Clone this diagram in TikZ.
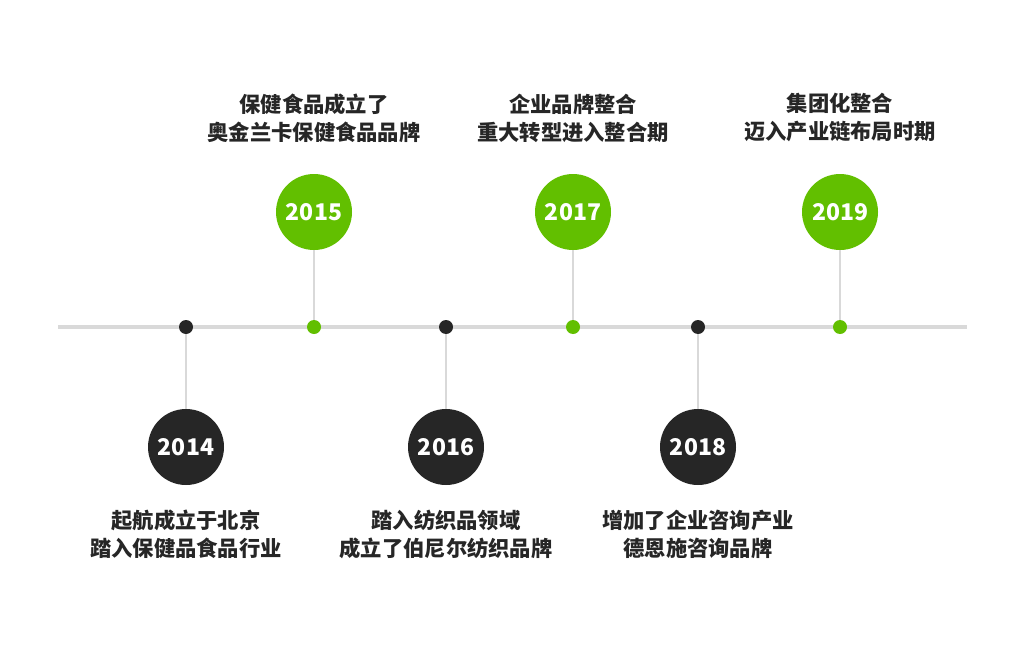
\documentclass[tikz,border=0pt]{standalone}
\usepackage{fontspec}
\newfontfamily\cjk{Noto Sans CJK SC}
\usepackage{xcolor}
\usepackage{tikz}
\usetikzlibrary{positioning}
\definecolor{leaf}{HTML}{62BF00}
\definecolor{coal}{HTML}{262626}
\definecolor{rail}{HTML}{D9D9D9}
\definecolor{ink}{HTML}{262626}

\begin{document}
\begin{tikzpicture}[x=1pt, y=-1pt,
            year/.style={circle, minimum size=76pt, inner sep=0pt, text=white,
                 font=\cjk\bfseries\fontsize{23}{23}\selectfont},
            dot/.style={circle, minimum size=14pt, inner sep=0pt},
            note/.style={align=center, text=ink, font=\cjk\bfseries\fontsize{21.3}{28}\selectfont},
            stem/.style={draw=rail, line width=2.5pt}
            ]
            \useasboundingbox (0,0) rectangle (1024,650);

            % Main line
            \coordinate (left) at (58,327);
            \coordinate (right) at (967,327);
            \draw[rail, line width=4pt] (left) -- (right);

            % Dots on the line
            \node[dot, fill=coal] (d14) at (186,327) {};
            \node[dot, fill=leaf] (d15) at (314,327) {};
            \node[dot, fill=coal] (d16) at (446,327) {};
            \node[dot, fill=leaf] (d17) at (573,327) {};
            \node[dot, fill=coal] (d18) at (698,327) {};
            \node[dot, fill=leaf] (d19) at (840,327) {};

            % Year circles
            \node[year, fill=coal] (y14) at (186,447) {2014};
            \node[year, fill=leaf] (y15) at (314,212) {2015};
            \node[year, fill=coal] (y16) at (446,447) {2016};
            \node[year, fill=leaf] (y17) at (573,212) {2017};
            \node[year, fill=coal] (y18) at (698,447) {2018};
            \node[year, fill=leaf] (y19) at (840,212) {2019};

            % Stems
            \draw[stem] (d14) -- (y14);
            \draw[stem] (d15) -- (y15);
            \draw[stem] (d16) -- (y16);
            \draw[stem] (d17) -- (y17);
            \draw[stem] (d18) -- (y18);
            \draw[stem] (d19) -- (y19);

            % Notes
            \node[note] (n14) at (186,534) {起航成立于北京\\踏入保健品食品行业};
            \node[note] (n15) at (314,118) {保健食品成立了\\奥金兰卡保健食品品牌};
            \node[note] (n16) at (446,534) {踏入纺织品领域\\成立了伯尼尔纺织品牌};
            \node[note] (n17) at (573,118) {企业品牌整合\\重大转型进入整合期};
            \node[note] (n18) at (698,534) {增加了企业咨询产业\\德恩施咨询品牌};
            \node[note] (n19) at (840,118) {集团化整合\\迈入产业链布局时期};
        \end{tikzpicture}
\end{document}
